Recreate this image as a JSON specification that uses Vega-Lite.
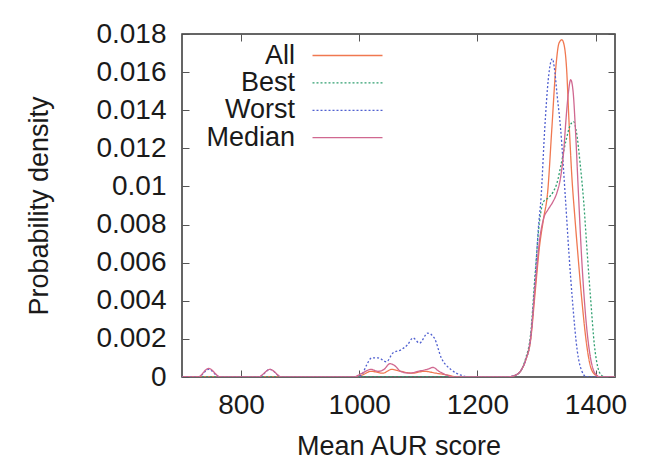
{
  "$schema": "https://vega.github.io/schema/vega-lite/v6.json",
  "width": 433,
  "height": 343,
  "autosize": "none",
  "padding": {"left": 182, "top": 34, "right": 37, "bottom": 82},
  "background": "white",
  "config": {
    "font": "Liberation Sans",
    "view": {"stroke": "#333333", "strokeWidth": 1.5},
    "axis": {
      "grid": false,
      "domain": false,
      "tickColor": "#555555",
      "tickSize": -7,
      "labelFont": "Liberation Sans",
      "labelFontSize": 28,
      "labelColor": "#1a1a1a",
      "titleFont": "Liberation Sans",
      "titleFontSize": 27,
      "titleFontWeight": "normal",
      "titleColor": "#1a1a1a"
    },
    "legend": {
      "orient": "none",
      "legendX": 152,
      "legendY": 8,
      "padding": 0,
      "labelAlign": "right",
      "labelOffset": -66,
      "labelFont": "Liberation Sans",
      "labelFontSize": 27,
      "labelColor": "#1a1a1a",
      "symbolType": "M-3.5,0H3.5",
      "symbolSize": 400,
      "symbolFillColor": "transparent",
      "symbolStrokeWidth": 1.3,
      "rowPadding": -0.6
    }
  },
  "data": {
    "values": [
      {"s": "All", "x": 700, "y": 0},
      {"s": "All", "x": 990, "y": 0},
      {"s": "All", "x": 1005, "y": 0.0001},
      {"s": "All", "x": 1020, "y": 0.0003},
      {"s": "All", "x": 1040, "y": 0.0002},
      {"s": "All", "x": 1055, "y": 0.0004},
      {"s": "All", "x": 1070, "y": 0.0003},
      {"s": "All", "x": 1090, "y": 0.0002},
      {"s": "All", "x": 1110, "y": 0.0003},
      {"s": "All", "x": 1130, "y": 0.0002},
      {"s": "All", "x": 1150, "y": 0.0001},
      {"s": "All", "x": 1165, "y": 0},
      {"s": "All", "x": 1250, "y": 0},
      {"s": "All", "x": 1265, "y": 0.0001},
      {"s": "All", "x": 1275, "y": 0.0004},
      {"s": "All", "x": 1282, "y": 0.0009},
      {"s": "All", "x": 1290, "y": 0.0019},
      {"s": "All", "x": 1298, "y": 0.0045},
      {"s": "All", "x": 1305, "y": 0.0068},
      {"s": "All", "x": 1312, "y": 0.0083},
      {"s": "All", "x": 1319, "y": 0.0097},
      {"s": "All", "x": 1326, "y": 0.013},
      {"s": "All", "x": 1333, "y": 0.0163},
      {"s": "All", "x": 1338, "y": 0.0175},
      {"s": "All", "x": 1343, "y": 0.0177},
      {"s": "All", "x": 1347, "y": 0.0174},
      {"s": "All", "x": 1351, "y": 0.0162},
      {"s": "All", "x": 1355, "y": 0.0135},
      {"s": "All", "x": 1360, "y": 0.0105},
      {"s": "All", "x": 1365, "y": 0.0084},
      {"s": "All", "x": 1370, "y": 0.0065},
      {"s": "All", "x": 1377, "y": 0.004},
      {"s": "All", "x": 1385, "y": 0.0017},
      {"s": "All", "x": 1392, "y": 0.0005},
      {"s": "All", "x": 1400, "y": 0.0001},
      {"s": "All", "x": 1408, "y": 0},
      {"s": "All", "x": 1433, "y": 0},

      {"s": "Best", "x": 700, "y": 0},
      {"s": "Best", "x": 1250, "y": 0},
      {"s": "Best", "x": 1265, "y": 0.0001},
      {"s": "Best", "x": 1275, "y": 0.0004},
      {"s": "Best", "x": 1282, "y": 0.001},
      {"s": "Best", "x": 1290, "y": 0.0022},
      {"s": "Best", "x": 1298, "y": 0.0055},
      {"s": "Best", "x": 1305, "y": 0.0081},
      {"s": "Best", "x": 1312, "y": 0.0092},
      {"s": "Best", "x": 1320, "y": 0.0094},
      {"s": "Best", "x": 1328, "y": 0.0097},
      {"s": "Best", "x": 1335, "y": 0.0102},
      {"s": "Best", "x": 1342, "y": 0.0112},
      {"s": "Best", "x": 1350, "y": 0.0124},
      {"s": "Best", "x": 1357, "y": 0.0132},
      {"s": "Best", "x": 1363, "y": 0.0134},
      {"s": "Best", "x": 1368, "y": 0.0128},
      {"s": "Best", "x": 1374, "y": 0.0112},
      {"s": "Best", "x": 1380, "y": 0.0092},
      {"s": "Best", "x": 1386, "y": 0.0065},
      {"s": "Best", "x": 1392, "y": 0.004},
      {"s": "Best", "x": 1398, "y": 0.0017},
      {"s": "Best", "x": 1404, "y": 0.0005},
      {"s": "Best", "x": 1410, "y": 0.0001},
      {"s": "Best", "x": 1416, "y": 0},
      {"s": "Best", "x": 1433, "y": 0},

      {"s": "Worst", "x": 700, "y": 0},
      {"s": "Worst", "x": 728, "y": 0},
      {"s": "Worst", "x": 745, "y": 0.0004},
      {"s": "Worst", "x": 764, "y": 0},
      {"s": "Worst", "x": 830, "y": 0},
      {"s": "Worst", "x": 849, "y": 0.0004},
      {"s": "Worst", "x": 868, "y": 0},
      {"s": "Worst", "x": 995, "y": 0},
      {"s": "Worst", "x": 1004, "y": 0.0001},
      {"s": "Worst", "x": 1012, "y": 0.0006},
      {"s": "Worst", "x": 1021, "y": 0.001},
      {"s": "Worst", "x": 1032, "y": 0.001},
      {"s": "Worst", "x": 1046, "y": 0.0008},
      {"s": "Worst", "x": 1057, "y": 0.00126},
      {"s": "Worst", "x": 1071, "y": 0.00143},
      {"s": "Worst", "x": 1082, "y": 0.0017},
      {"s": "Worst", "x": 1091, "y": 0.00205},
      {"s": "Worst", "x": 1102, "y": 0.00178},
      {"s": "Worst", "x": 1116, "y": 0.0023},
      {"s": "Worst", "x": 1127, "y": 0.00205},
      {"s": "Worst", "x": 1139, "y": 0.001},
      {"s": "Worst", "x": 1155, "y": 0.0004},
      {"s": "Worst", "x": 1172, "y": 0.0001},
      {"s": "Worst", "x": 1185, "y": 0},
      {"s": "Worst", "x": 1250, "y": 0},
      {"s": "Worst", "x": 1265, "y": 0.0001},
      {"s": "Worst", "x": 1275, "y": 0.0004},
      {"s": "Worst", "x": 1282, "y": 0.0009},
      {"s": "Worst", "x": 1290, "y": 0.002},
      {"s": "Worst", "x": 1298, "y": 0.0052},
      {"s": "Worst", "x": 1303, "y": 0.0077},
      {"s": "Worst", "x": 1308, "y": 0.0095},
      {"s": "Worst", "x": 1314, "y": 0.013},
      {"s": "Worst", "x": 1320, "y": 0.0156},
      {"s": "Worst", "x": 1324, "y": 0.0165},
      {"s": "Worst", "x": 1327, "y": 0.0167},
      {"s": "Worst", "x": 1330, "y": 0.0163},
      {"s": "Worst", "x": 1335, "y": 0.0148},
      {"s": "Worst", "x": 1341, "y": 0.013},
      {"s": "Worst", "x": 1349, "y": 0.0094},
      {"s": "Worst", "x": 1355, "y": 0.0065},
      {"s": "Worst", "x": 1361, "y": 0.004},
      {"s": "Worst", "x": 1369, "y": 0.0014},
      {"s": "Worst", "x": 1377, "y": 0.0003},
      {"s": "Worst", "x": 1385, "y": 0},
      {"s": "Worst", "x": 1433, "y": 0},

      {"s": "Median", "x": 700, "y": 0},
      {"s": "Median", "x": 727, "y": 0},
      {"s": "Median", "x": 745, "y": 0.00045},
      {"s": "Median", "x": 765, "y": 0},
      {"s": "Median", "x": 829, "y": 0},
      {"s": "Median", "x": 849, "y": 0.0004},
      {"s": "Median", "x": 869, "y": 0},
      {"s": "Median", "x": 990, "y": 0},
      {"s": "Median", "x": 1005, "y": 0.0002},
      {"s": "Median", "x": 1020, "y": 0.0004},
      {"s": "Median", "x": 1032, "y": 0.0003},
      {"s": "Median", "x": 1042, "y": 0.0004},
      {"s": "Median", "x": 1052, "y": 0.0007},
      {"s": "Median", "x": 1060, "y": 0.0006},
      {"s": "Median", "x": 1070, "y": 0.0003},
      {"s": "Median", "x": 1085, "y": 0.0002},
      {"s": "Median", "x": 1100, "y": 0.0003},
      {"s": "Median", "x": 1115, "y": 0.0004},
      {"s": "Median", "x": 1125, "y": 0.0005},
      {"s": "Median", "x": 1135, "y": 0.0003},
      {"s": "Median", "x": 1148, "y": 0.0001},
      {"s": "Median", "x": 1160, "y": 0},
      {"s": "Median", "x": 1250, "y": 0},
      {"s": "Median", "x": 1265, "y": 0.0001},
      {"s": "Median", "x": 1275, "y": 0.0004},
      {"s": "Median", "x": 1282, "y": 0.0009},
      {"s": "Median", "x": 1290, "y": 0.002},
      {"s": "Median", "x": 1298, "y": 0.0048},
      {"s": "Median", "x": 1305, "y": 0.0071},
      {"s": "Median", "x": 1312, "y": 0.0083},
      {"s": "Median", "x": 1320, "y": 0.0088},
      {"s": "Median", "x": 1328, "y": 0.0092},
      {"s": "Median", "x": 1335, "y": 0.0097},
      {"s": "Median", "x": 1341, "y": 0.0105},
      {"s": "Median", "x": 1346, "y": 0.0118},
      {"s": "Median", "x": 1350, "y": 0.0135},
      {"s": "Median", "x": 1354, "y": 0.0149},
      {"s": "Median", "x": 1358, "y": 0.0156},
      {"s": "Median", "x": 1362, "y": 0.015},
      {"s": "Median", "x": 1366, "y": 0.013},
      {"s": "Median", "x": 1371, "y": 0.0097},
      {"s": "Median", "x": 1377, "y": 0.006},
      {"s": "Median", "x": 1383, "y": 0.0033},
      {"s": "Median", "x": 1390, "y": 0.0013},
      {"s": "Median", "x": 1396, "y": 0.0004},
      {"s": "Median", "x": 1402, "y": 0.0001},
      {"s": "Median", "x": 1408, "y": 0},
      {"s": "Median", "x": 1433, "y": 0}
    ]
  },
  "layer": [
    {
      "mark": {"type": "line", "interpolate": "monotone", "strokeWidth": 1.3, "clip": true},
      "encoding": {
        "x": {
          "field": "x", "type": "quantitative",
          "scale": {"domain": [700, 1433], "nice": false, "zero": false},
          "axis": {"orient": "bottom", "values": [800, 1000, 1200, 1400], "format": "d", "labelPadding": 21, "title": "Mean AUR score", "titlePadding": 14}
        },
        "y": {
          "field": "y", "type": "quantitative",
          "scale": {"domain": [0, 0.018], "nice": false},
          "axis": {
            "orient": "left",
            "values": [0, 0.002, 0.004, 0.006, 0.008, 0.01, 0.012, 0.014, 0.016, 0.018],
            "labelExpr": "'' + datum.value",
            "labelPadding": 23,
            "title": "Probability density",
            "titlePadding": 42
          }
        },
        "color": {
          "field": "s", "type": "nominal", "title": null,
          "scale": {"domain": ["All", "Best", "Worst", "Median"], "range": ["#f07850", "#30a070", "#5060d0", "#d06890"]}
        },
        "strokeDash": {
          "field": "s", "type": "nominal", "title": null,
          "scale": {"domain": ["All", "Best", "Worst", "Median"], "range": [[1, 0], [2, 2], [2, 2], [1, 0]]}
        }
      }
    },
    {
      "mark": {"type": "line", "opacity": 0},
      "encoding": {
        "x": {
          "field": "x", "type": "quantitative",
          "axis": {"orient": "top", "values": [800, 1000, 1200, 1400], "labels": false, "title": null}
        },
        "y": {
          "field": "y", "type": "quantitative",
          "axis": {"orient": "right", "values": [0, 0.002, 0.004, 0.006, 0.008, 0.01, 0.012, 0.014, 0.016, 0.018], "labels": false, "title": null}
        },
        "detail": {"field": "s", "type": "nominal"}
      }
    }
  ],
  "resolve": {"axis": {"x": "independent", "y": "independent"}}
}
